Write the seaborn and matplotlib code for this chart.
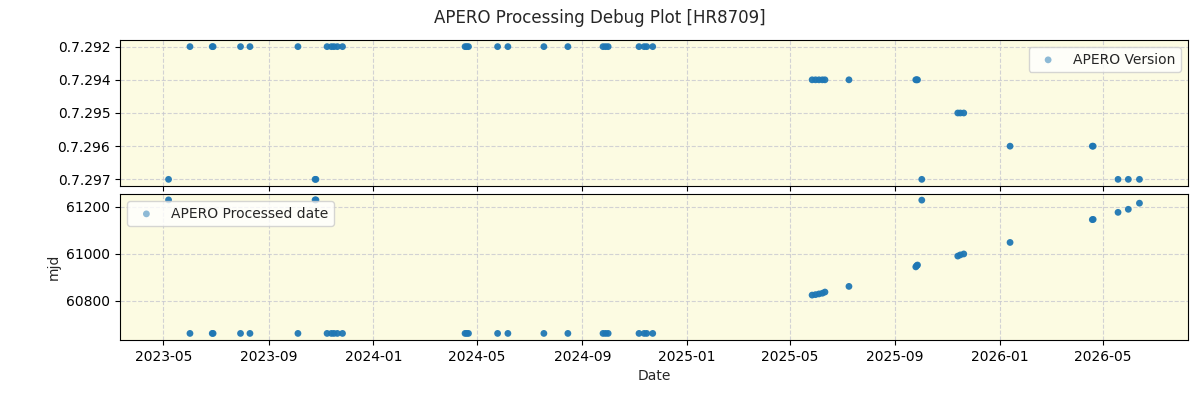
import matplotlib
matplotlib.use("Agg")
import matplotlib.pyplot as plt
import matplotlib.dates as mdates
import seaborn as sns
import pandas as pd

obs_dates = [
    "2023-05-07", "2023-06-01", "2023-06-27", "2023-06-28", "2023-07-30", "2023-08-10",
    "2023-10-05", "2023-10-25", "2023-10-26", "2023-11-08", "2023-11-13", "2023-11-16",
    "2023-11-20", "2023-11-26", "2024-04-17", "2024-04-19", "2024-04-21", "2024-05-25",
    "2024-06-06", "2024-07-18", "2024-08-15", "2024-09-25", "2024-09-28", "2024-10-01",
    "2024-11-06", "2024-11-12", "2024-11-15", "2024-11-22",
    "2025-05-27", "2025-05-31", "2025-06-04", "2025-06-08", "2025-06-11", "2025-07-09",
    "2025-09-25", "2025-09-26", "2025-09-27", "2025-10-02",
    "2025-11-13", "2025-11-16", "2025-11-20", "2026-01-13", "2026-04-19", "2026-04-20",
    "2026-05-19", "2026-05-31", "2026-06-13",
]
versions = [
    "0.7.297", "0.7.292", "0.7.292", "0.7.292", "0.7.292", "0.7.292",
    "0.7.292", "0.7.297", "0.7.297", "0.7.292", "0.7.292", "0.7.292",
    "0.7.292", "0.7.292", "0.7.292", "0.7.292", "0.7.292", "0.7.292",
    "0.7.292", "0.7.292", "0.7.292", "0.7.292", "0.7.292", "0.7.292",
    "0.7.292", "0.7.292", "0.7.292", "0.7.292",
    "0.7.294", "0.7.294", "0.7.294", "0.7.294", "0.7.294", "0.7.294",
    "0.7.294", "0.7.294", "0.7.294", "0.7.297",
    "0.7.295", "0.7.295", "0.7.295", "0.7.296", "0.7.296", "0.7.296",
    "0.7.297", "0.7.297", "0.7.297",
]
processed_mjd = [
    61230, 60662, 60662, 60662, 60662, 60662,
    60662, 61230, 61230, 60662, 60662, 60662,
    60662, 60662, 60662, 60662, 60662, 60662,
    60662, 60662, 60662, 60662, 60662, 60662,
    60662, 60662, 60662, 60662,
    60825, 60827, 60830, 60833, 60838, 60862,
    60945, 60950, 60953, 61229,
    60991, 60996, 61000, 61049, 61146, 61147,
    61177, 61190, 61216,
]
version_order = ["0.7.297", "0.7.296", "0.7.295", "0.7.294", "0.7.292"]

df = pd.DataFrame({"date": pd.to_datetime(obs_dates), "version": versions, "mjd": processed_mjd})
df["vpos"] = df["version"].map({v: i for i, v in enumerate(version_order)})

sns.set_style("ticks")
plt.rcParams["font.family"] = ["DejaVu Sans"]

fig, (ax1, ax2) = plt.subplots(2, 1, figsize=(12, 4), dpi=100, sharex=True)
fig.subplots_adjust(left=0.1, right=0.99, top=0.9, bottom=0.15, hspace=0.055)

bg = "#fcfbe2"
blue = "#1f77b4"
for ax in (ax1, ax2):
    ax.set_facecolor(bg)
    ax.grid(True, linestyle="--", color="#c8c8d0", alpha=0.8, linewidth=0.8)
    for s in ax.spines.values():
        s.set_visible(True)
        s.set_color("black")
    ax.tick_params(colors="black")

sns.scatterplot(data=df, x="date", y="vpos", ax=ax1, s=24, color=blue, edgecolor="none",
                alpha=0.95, label="APERO Version")
sns.scatterplot(data=df, x="date", y="mjd", ax=ax2, s=24, color=blue, edgecolor="none",
                alpha=0.95, label="APERO Processed date")

ax1.set_yticks(range(len(version_order)))
ax1.set_yticklabels(version_order)
ax1.set_ylabel("")
ax1.set_xlabel("")
ax1.tick_params(axis="x", labelbottom=False)

ax2.set_yticks([60800, 61000, 61200])
ax2.set_ylim(60634, 61255)
ax2.set_ylabel("mjd")
ax2.set_xlabel("Date")

ax2.xaxis.set_major_locator(mdates.MonthLocator(bymonth=[1, 5, 9]))
ax2.xaxis.set_major_formatter(mdates.DateFormatter("%Y-%m"))

leg1 = ax1.legend(loc="upper right", fontsize=10)
leg2 = ax2.legend(loc="upper left", fontsize=10)
for leg in (leg1, leg2):
    for h in leg.legend_handles:
        h.set_alpha(0.5)

fig.suptitle("APERO Processing Debug Plot [HR8709]", fontsize=12, y=0.978)
fig.savefig("out.png", dpi=100)
